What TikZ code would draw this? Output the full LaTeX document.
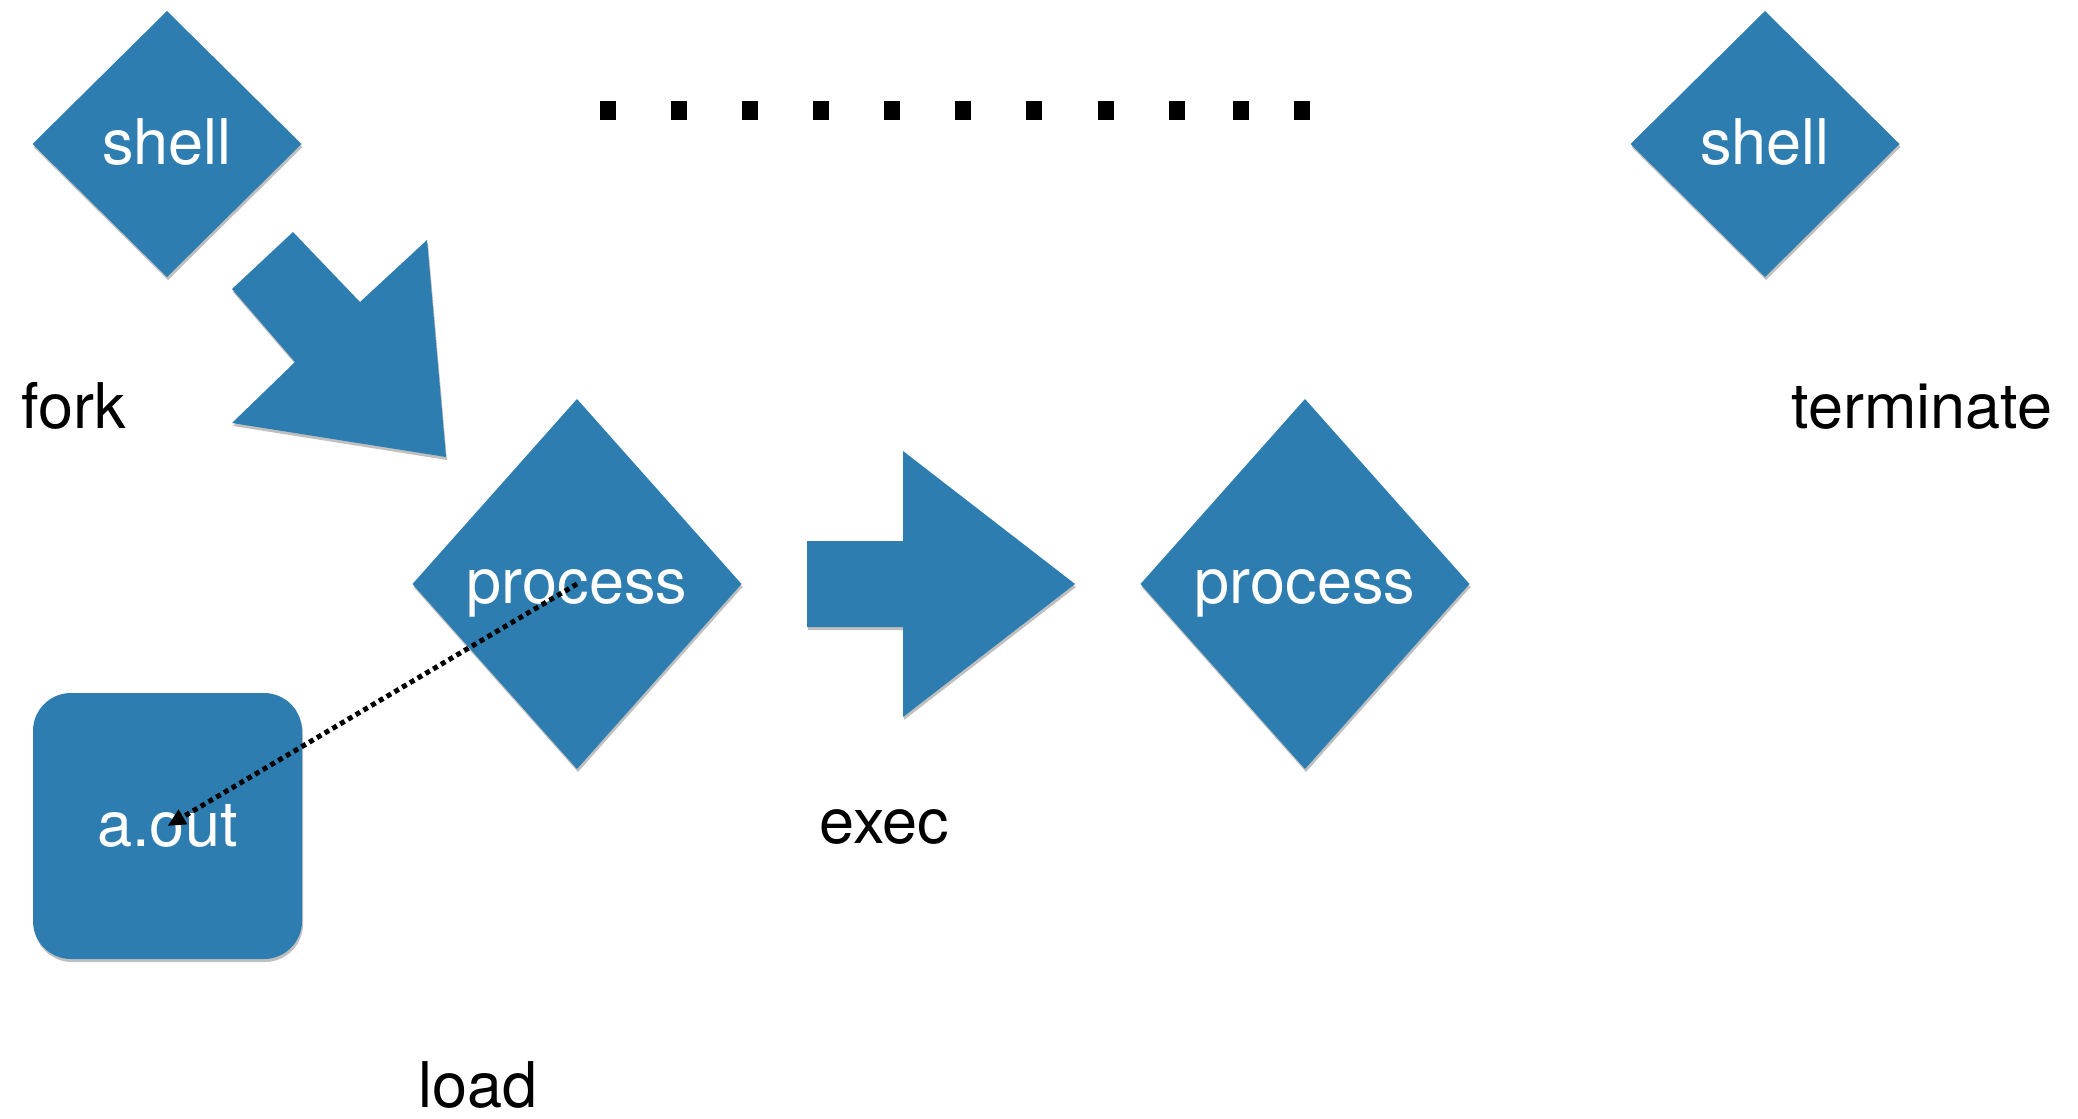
\documentclass[tikz,border=0pt]{standalone}
\usepackage{fontspec}
\setmainfont{TeX Gyre Heros}
\usetikzlibrary{shapes.geometric,arrows.meta,shadows}
\definecolor{feltblue}{RGB}{46,125,176}
\begin{document}
\begin{tikzpicture}[x=1pt,y=-1pt,
  every node/.style={inner sep=0pt, outer sep=0pt, font=\fontsize{63}{75}\selectfont},
  softshadow/.style={drop shadow={shadow xshift=1pt, shadow yshift=-3pt, opacity=0.25, fill=black}},
  felt/.style={fill=feltblue, draw=none, softshadow},
  shellbox/.style={felt, diamond, text=white, minimum width=269pt, minimum height=266pt, text height=40pt, text depth=0pt},
  procbox/.style={felt, diamond, text=white, minimum width=329pt, minimum height=370pt, text height=38pt, text depth=0pt},
  filebox/.style={felt, rectangle, rounded corners=38pt, text=white, minimum width=269pt, minimum height=266pt, text height=40pt, text depth=0pt},
  lbl/.style={anchor=base, text=black},
  dotsq/.style={fill=black},
  loadline/.style={draw=black, line width=5pt, dash pattern=on 5pt off 4pt, -{Triangle[length=18pt,width=16pt]}}
]
\useasboundingbox (0,0) rectangle (2078,1119);

% shapes
\node[shellbox] (shellA) at (167,144) {shell};
\node[shellbox] (shellB) at (1765,144) {shell};
\node[procbox] (procA) at (577,584) {process};
\node[procbox] (procB) at (1305,584) {process};
\node[filebox] (aout) at (167.5,826) {a.out};

% fork arrow
\fill[felt] (293,232) -- (360,302) -- (427,240) -- (446,457) -- (232,423) -- (295,362) -- (232,289) -- cycle;
% exec arrow
\fill[felt] (807,541) -- (903,541) -- (903,451) -- (1075,584) -- (903,717) -- (903,627) -- (807,627) -- cycle;

% row of dots
\foreach \x in {608,679,750,821,892,963,1034,1106,1177,1241,1302}
  \fill[dotsq] (\x-8,101) rectangle (\x+8,120);

% load connector
\draw[loadline] (procA.center) -- (aout.center);

% labels
\node[lbl] (fork) at (74,428) {fork};
\node[lbl] (terminate) at (1922,428) {terminate};
\node[lbl] (exec) at (884.5,843) {exec};
\node[lbl] (load) at (478,1107) {load};
\end{tikzpicture}
\end{document}
